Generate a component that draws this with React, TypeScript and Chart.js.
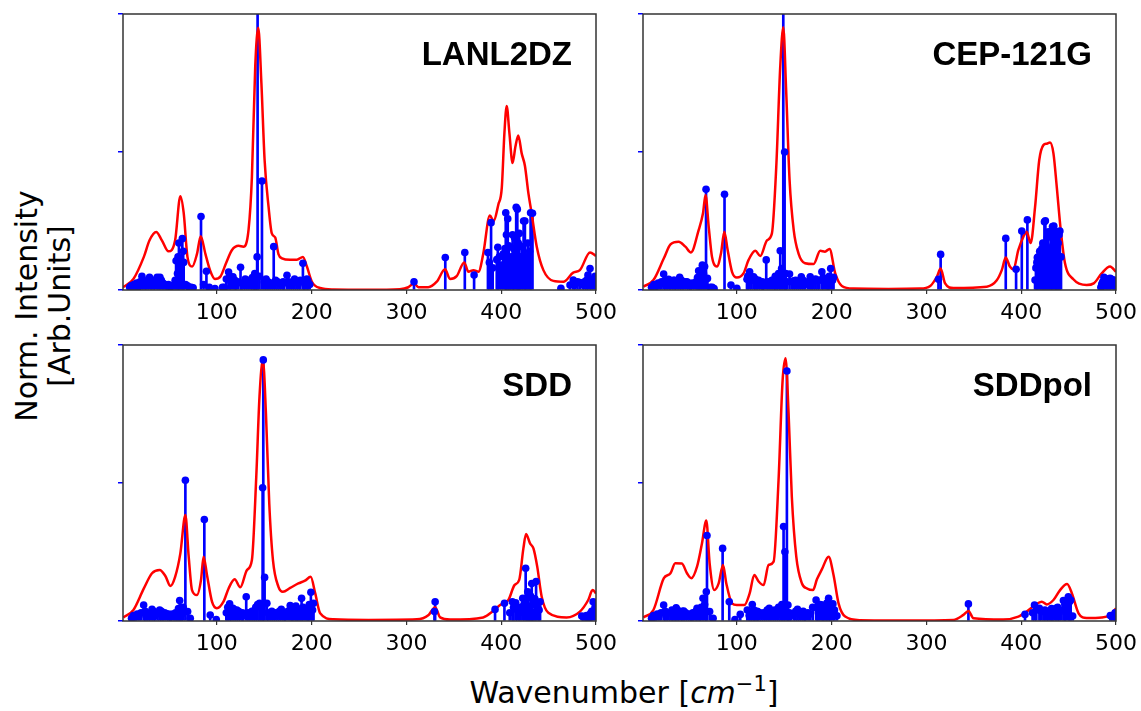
import React, { useEffect, useRef } from "react";
import { Chart, registerables } from "chart.js";

Chart.register(...registerables);

const xTickValues = [100, 200, 300, 400, 500];
const panelTitles = ["LANL2DZ", "CEP-121G", "SDD", "SDDpol"];

// ---- LANL2DZ ----
const lanlCurveX = [1, 12, 23, 29, 36, 42, 49, 56, 61.5, 65, 69, 74, 79, 83, 88, 93, 98, 104, 110, 116, 123, 128, 133.5, 137, 140.5, 143.7, 147, 150.4, 154.6, 158, 161.6, 165, 168.7, 177.4, 184.5, 190.8, 195, 200.3, 209, 223, 260, 293, 302, 308, 312.7, 323, 332, 340.8, 346, 353, 361, 365.4, 370.7, 376, 381, 388, 392, 397, 400.6, 403.4, 405.8, 408.6, 412, 415, 418, 421.6, 425, 428.7, 432, 437.5, 444.5, 455, 465.6, 476, 483, 493.7, 500];
const lanlCurveY = [0.01, 0.04, 0.12, 0.18, 0.21, 0.18, 0.14, 0.18, 0.34, 0.28, 0.12, 0.085, 0.13, 0.195, 0.13, 0.07, 0.04, 0.05, 0.1, 0.145, 0.16, 0.157, 0.22, 0.41, 0.81, 0.95, 0.75, 0.47, 0.3, 0.205, 0.19, 0.13, 0.115, 0.11, 0.11, 0.12, 0.085, 0.03, 0.007, 0.002, 0.001, 0.003, 0.01, 0.024, 0.01, 0.01, 0.03, 0.075, 0.04, 0.05, 0.1, 0.066, 0.072, 0.066, 0.13, 0.27, 0.25, 0.31, 0.37, 0.57, 0.667, 0.57, 0.46, 0.52, 0.56, 0.495, 0.45, 0.35, 0.28, 0.157, 0.072, 0.033, 0.03, 0.063, 0.072, 0.136, 0.123];
const lanlStemX = [11, 14, 17, 21, 24, 27, 29, 32, 35, 37, 40, 44, 47, 51, 55, 57, 58.5, 60, 62, 63.6, 65, 67, 71, 75, 83.3, 89, 98, 108, 112.4, 115, 117, 120, 125, 128, 132, 136, 139, 141, 142.5, 143, 147.6, 152, 156, 160, 164, 168, 171, 174, 178, 182, 186, 190.8, 193, 196, 308, 341, 361.6, 371.4, 386, 389.3, 395.3, 396.4, 404, 404.8, 406.9, 409, 414, 417, 419, 421.7, 425, 428, 433, 463, 472.6, 476, 483, 488, 491.5, 493.7, 497];
const lanlStemY = [0.012, 0.02, 0.01, 0.05, 0.025, 0.02, 0.046, 0.02, 0.03, 0.046, 0.046, 0.02, 0.015, 0.012, 0.02, 0.106, 0.06, 0.17, 0.1, 0.186, 0.1, 0.02, 0.01, 0.008, 0.266, 0.068, 0.005, 0.01, 0.065, 0.03, 0.048, 0.02, 0.082, 0.02, 0.02, 0.03, 0.04, 0.05, 0.12, 1.35, 0.395, 0.04, 0.02, 0.157, 0.03, 0.02, 0.025, 0.053, 0.02, 0.04, 0.025, 0.097, 0.02, 0.033, 0.03, 0.118, 0.136, 0.054, 0.136, 0.244, 0.11, 0.155, 0.15, 0.28, 0.258, 0.108, 0.19, 0.293, 0.205, 0.157, 0.25, 0.17, 0.278, 0.006, 0.018, 0.036, 0.027, 0.03, 0.054, 0.078, 0.04];
const lanlExtraStemX = [8, 9.5, 12.5, 15.5, 19, 22.5, 25.5, 30.5, 33.5, 38.5, 41.5, 43, 46, 49, 53, 56, 59, 61, 64.5, 69, 73, 86, 92, 106, 110, 113.5, 119, 122, 126, 130, 134, 137.5, 140, 145, 150, 154, 158, 162, 166, 170, 176, 180, 184, 188, 192, 195, 198, 387.5, 391, 398, 400, 402, 405.5, 408, 410.5, 412, 413, 415.8, 418, 420, 423.6, 426.5, 430, 431, 478, 480.5, 486, 490, 495, 499];
const lanlExtraStemY = [0.01, 0.015, 0.02, 0.025, 0.03, 0.035, 0.03, 0.03, 0.035, 0.03, 0.035, 0.025, 0.02, 0.02, 0.015, 0.035, 0.12, 0.08, 0.14, 0.015, 0.01, 0.02, 0.01, 0.01, 0.04, 0.05, 0.035, 0.03, 0.025, 0.04, 0.035, 0.045, 0.06, 0.05, 0.03, 0.03, 0.025, 0.035, 0.025, 0.03, 0.03, 0.025, 0.03, 0.035, 0.03, 0.04, 0.02, 0.1, 0.08, 0.12, 0.09, 0.13, 0.2, 0.16, 0.12, 0.2, 0.15, 0.3, 0.17, 0.12, 0.25, 0.12, 0.14, 0.28, 0.02, 0.03, 0.02, 0.035, 0.03, 0.05];

// ---- CEP-121G ----
const cepCurveX = [1.4, 12, 23, 30, 38.6, 45.7, 51.6, 59.7, 64.3, 67, 70.3, 73.8, 79, 83.3, 86.8, 90.3, 94.9, 100, 107, 112.4, 119.5, 124.7, 131.8, 137, 141.6, 145.8, 149, 152, 155.6, 160, 165, 172, 181, 188, 193, 197.8, 203.8, 210.8, 223, 260, 293, 304, 311, 315, 319.7, 328.5, 363.7, 374, 379.5, 383.7, 388, 391.8, 397, 402.3, 405.8, 410, 414.6, 419, 423.4, 427, 430.4, 434, 437.5, 441.7, 446.2, 455, 469, 476.5, 484.9, 493.7, 500];
const cepCurveY = [0.012, 0.036, 0.115, 0.165, 0.175, 0.157, 0.136, 0.217, 0.278, 0.344, 0.23, 0.12, 0.085, 0.133, 0.211, 0.145, 0.066, 0.045, 0.06, 0.109, 0.142, 0.123, 0.18, 0.205, 0.447, 0.81, 0.952, 0.725, 0.4, 0.217, 0.133, 0.097, 0.094, 0.142, 0.139, 0.149, 0.06, 0.0145, 0.005, 0.004, 0.005, 0.0145, 0.048, 0.078, 0.024, 0.007, 0.012, 0.034, 0.072, 0.118, 0.085, 0.075, 0.145, 0.193, 0.211, 0.17, 0.3, 0.47, 0.525, 0.53, 0.534, 0.495, 0.374, 0.217, 0.097, 0.039, 0.018, 0.024, 0.06, 0.085, 0.066];
const cepStemX = [10, 15, 19, 22.8, 26, 28, 31, 33, 36, 39.7, 43, 47.4, 51, 55, 59.7, 62, 63.6, 66, 67.5, 69, 72, 76, 87, 93.8, 100, 110.7, 113.5, 117.7, 121, 125, 128, 131, 135, 139, 142, 145.8, 147.2, 149, 150.4, 153, 155.6, 160, 164, 168, 172, 177.4, 181, 185, 189.7, 193, 196, 199, 202, 312.7, 315, 383.7, 394.6, 400.6, 406.5, 414.6, 417, 420.6, 423.4, 425.5, 428.7, 431.5, 434.4, 438, 440.8, 485, 487.3, 490, 493.7, 497, 499];
const cepStemY = [0.01, 0.014, 0.02, 0.058, 0.03, 0.039, 0.025, 0.035, 0.02, 0.046, 0.02, 0.03, 0.015, 0.02, 0.07, 0.04, 0.09, 0.085, 0.365, 0.042, 0.01, 0.005, 0.347, 0.018, 0.006, 0.039, 0.066, 0.048, 0.03, 0.02, 0.015, 0.109, 0.02, 0.025, 0.04, 0.142, 0.078, 1.25, 0.5, 0.03, 0.058, 0.033, 0.02, 0.048, 0.02, 0.048, 0.03, 0.035, 0.066, 0.03, 0.04, 0.078, 0.046, 0.039, 0.129, 0.187, 0.075, 0.214, 0.254, 0.036, 0.118, 0.127, 0.163, 0.251, 0.211, 0.208, 0.232, 0.211, 0.214, 0.022, 0.046, 0.03, 0.042, 0.036, 0.03];
const cepExtraStemX = [12.5, 17, 20.5, 24.5, 29.5, 34.5, 38, 41.5, 45, 49, 53, 57, 58.5, 61, 64.8, 74, 111.5, 115.5, 119.5, 123, 127, 133, 137, 140.5, 144, 151.5, 158, 162, 166, 170, 175, 179, 183, 187, 191, 195, 197.5, 201, 415.5, 416.5, 418, 419.5, 421.8, 422.8, 424.5, 426.5, 427.5, 429.5, 430.5, 432.5, 433, 435.5, 436.5, 437, 439, 440, 442, 484, 486, 488.5, 491, 492.5, 495, 498];
const cepExtraStemY = [0.02, 0.025, 0.03, 0.035, 0.03, 0.035, 0.03, 0.035, 0.03, 0.025, 0.025, 0.03, 0.045, 0.05, 0.06, 0.01, 0.05, 0.035, 0.04, 0.035, 0.03, 0.03, 0.035, 0.05, 0.06, 0.06, 0.03, 0.035, 0.03, 0.035, 0.03, 0.035, 0.04, 0.035, 0.045, 0.04, 0.05, 0.035, 0.08, 0.1, 0.12, 0.14, 0.15, 0.17, 0.247, 0.16, 0.19, 0.12, 0.15, 0.14, 0.23, 0.18, 0.15, 0.21, 0.17, 0.2, 0.12, 0.01, 0.03, 0.035, 0.04, 0.035, 0.04, 0.035];

// ---- SDD ----
const sddCurveX = [1.4, 12, 23, 31.6, 39.7, 45.7, 51, 56, 61.5, 66.8, 70.3, 73.8, 79, 83.3, 86, 89.6, 94.9, 100, 107, 112.4, 118.8, 124.7, 131.8, 137, 141.6, 145, 148.6, 151.8, 155.3, 159.2, 165, 169.7, 177.4, 186, 193, 199, 203.8, 209, 223, 260, 311, 323.4, 330.3, 335.6, 346, 381, 391.8, 398.8, 407.6, 414, 419, 423.4, 426.2, 430.4, 434, 438, 442.7, 449.7, 469, 483, 491.8, 496.4, 500];
const sddCurveY = [0.013, 0.04, 0.118, 0.173, 0.185, 0.163, 0.127, 0.16, 0.245, 0.384, 0.233, 0.112, 0.094, 0.149, 0.233, 0.167, 0.07, 0.046, 0.07, 0.118, 0.151, 0.122, 0.185, 0.221, 0.523, 0.813, 0.946, 0.752, 0.426, 0.221, 0.124, 0.106, 0.12, 0.136, 0.146, 0.16, 0.1, 0.028, 0.006, 0.004, 0.006, 0.022, 0.05, 0.013, 0.005, 0.013, 0.037, 0.058, 0.076, 0.13, 0.149, 0.263, 0.315, 0.281, 0.263, 0.197, 0.088, 0.03, 0.013, 0.034, 0.076, 0.112, 0.1];
const sddStemX = [10, 14, 18, 22.8, 26, 28, 31.6, 35, 39.7, 43, 47.4, 51, 55, 58, 60.8, 63, 66.8, 69.2, 72, 86.8, 93, 99.4, 110, 113.5, 117, 121, 125, 128, 131, 135, 139, 145, 148.3, 149, 150.4, 152.8, 156, 160, 164, 168, 172, 177.4, 180, 183.4, 186, 189.4, 193, 196, 199.2, 202, 329.6, 330.3, 393.5, 403.4, 411.8, 415.3, 419, 422.7, 425.8, 428, 430, 432.2, 434, 436.8, 441, 485, 488.3, 492, 494.3, 497];
const sddStemY = [0.01, 0.015, 0.02, 0.058, 0.025, 0.02, 0.042, 0.02, 0.04, 0.02, 0.025, 0.015, 0.02, 0.03, 0.074, 0.025, 0.51, 0.034, 0.01, 0.368, 0.022, 0.005, 0.03, 0.062, 0.046, 0.04, 0.02, 0.02, 0.088, 0.02, 0.03, 0.064, 0.483, 0.946, 0.158, 0.064, 0.02, 0.028, 0.02, 0.042, 0.015, 0.056, 0.02, 0.054, 0.02, 0.082, 0.03, 0.035, 0.104, 0.064, 0.034, 0.07, 0.042, 0.064, 0.07, 0.066, 0.03, 0.082, 0.191, 0.106, 0.04, 0.136, 0.03, 0.143, 0.07, 0.018, 0.016, 0.01, 0.028, 0.07];
const sddExtraStemX = [12, 16, 20, 24.5, 29.5, 33.5, 37.5, 41.5, 45, 49, 53, 56.5, 59.5, 62, 64.5, 111.5, 115, 119, 123, 127, 133, 137, 141, 143, 146.5, 154, 158, 162, 166, 170, 175, 179, 182, 185, 188, 191, 195, 197.5, 201, 409, 413, 417, 420.5, 424, 426.8, 429, 431, 433, 435.5, 438.5, 440, 486.5, 490, 495.5, 499];
const sddExtraStemY = [0.02, 0.025, 0.03, 0.035, 0.03, 0.035, 0.03, 0.035, 0.03, 0.025, 0.025, 0.03, 0.045, 0.04, 0.05, 0.05, 0.035, 0.04, 0.035, 0.03, 0.03, 0.035, 0.05, 0.06, 0.05, 0.03, 0.035, 0.03, 0.035, 0.03, 0.035, 0.04, 0.035, 0.045, 0.04, 0.05, 0.045, 0.06, 0.04, 0.03, 0.05, 0.04, 0.05, 0.06, 0.08, 0.05, 0.09, 0.06, 0.08, 0.05, 0.04, 0.015, 0.02, 0.035, 0.05];

// ---- SDDpol ----
const polCurveX = [1.4, 12, 23, 30, 35, 42, 47.4, 52, 58, 63.2, 67.8, 71.3, 76.2, 80.8, 85.4, 88.9, 94.9, 100, 107.9, 113.5, 118.4, 123, 128.2, 133.5, 138.8, 144, 148.3, 151.4, 154.6, 158, 162.7, 168.7, 174, 180.3, 184.5, 189.7, 196.8, 202, 207.3, 214.3, 230, 280, 328.5, 339, 344.3, 349.6, 381, 397, 405.8, 414.6, 421.7, 427, 434, 441, 448.4, 453.5, 460.5, 469, 485, 493.7, 500];
const polCurveY = [0.013, 0.04, 0.155, 0.173, 0.209, 0.208, 0.173, 0.155, 0.197, 0.281, 0.364, 0.209, 0.112, 0.136, 0.203, 0.136, 0.064, 0.058, 0.058, 0.1, 0.167, 0.143, 0.13, 0.203, 0.215, 0.51, 0.873, 0.952, 0.752, 0.45, 0.233, 0.136, 0.118, 0.112, 0.151, 0.187, 0.233, 0.167, 0.064, 0.016, 0.003, 0.002, 0.004, 0.022, 0.036, 0.01, 0.005, 0.016, 0.034, 0.058, 0.07, 0.06, 0.076, 0.112, 0.134, 0.1, 0.028, 0.011, 0.013, 0.022, 0.046];
const polStemX = [10, 14, 18, 22.8, 26, 30, 33, 36, 39, 41, 44, 48, 52, 55, 58, 61, 64.3, 67.8, 68.5, 71.3, 75, 85, 92, 98, 103.6, 113, 116.3, 119, 122, 126, 130, 134.2, 138, 142, 146, 149.3, 150.7, 152.8, 153.9, 157, 160, 164, 168, 172, 177.4, 183.6, 186, 189.7, 192, 194, 196.8, 199, 201.3, 205.6, 344.3, 404, 414, 419.2, 423.4, 427, 430.4, 433, 436.8, 440, 444.5, 447, 449.7, 452.2, 454.3, 495.5, 498];
const polStemY = [0.01, 0.015, 0.02, 0.058, 0.025, 0.03, 0.035, 0.048, 0.03, 0.025, 0.036, 0.02, 0.015, 0.025, 0.046, 0.03, 0.082, 0.106, 0.31, 0.034, 0.01, 0.263, 0.07, 0.005, 0.024, 0.02, 0.06, 0.03, 0.034, 0.02, 0.025, 0.046, 0.03, 0.02, 0.03, 0.342, 0.251, 0.906, 0.058, 0.02, 0.025, 0.042, 0.02, 0.015, 0.025, 0.076, 0.03, 0.058, 0.04, 0.03, 0.082, 0.045, 0.062, 0.019, 0.062, 0.024, 0.058, 0.046, 0.034, 0.02, 0.037, 0.02, 0.046, 0.03, 0.074, 0.04, 0.088, 0.076, 0.018, 0.016, 0.016];
const polExtraStemX = [12, 16, 20, 24.5, 28, 31.5, 34.5, 37.5, 42.5, 46, 50, 53.5, 57, 60, 62.5, 66, 111, 114.5, 118, 121, 124, 128, 132, 136, 140, 144, 147.5, 155.5, 162, 166, 170, 175, 180, 185, 188, 191, 195, 198, 203, 412, 416, 421, 425, 428.5, 432, 435, 438.5, 442, 446, 451, 494, 499];
const polExtraStemY = [0.02, 0.025, 0.03, 0.035, 0.03, 0.04, 0.035, 0.04, 0.035, 0.03, 0.025, 0.03, 0.035, 0.04, 0.05, 0.06, 0.04, 0.035, 0.04, 0.035, 0.03, 0.03, 0.04, 0.035, 0.04, 0.05, 0.06, 0.03, 0.035, 0.03, 0.035, 0.03, 0.05, 0.045, 0.06, 0.05, 0.065, 0.05, 0.04, 0.03, 0.04, 0.035, 0.04, 0.03, 0.045, 0.04, 0.05, 0.04, 0.06, 0.07, 0.02, 0.03];

const pts = (xs: number[], ys: number[]) => xs.map((x, i) => ({ x, y: ys[i] }));

const PLOT_W = 473;
const PLOT_H = 276;
const PAD_L = 20;
const PAD_R = 26;
const PAD_T = 8;
const X_AXIS_H = 40;

const panels = [
  { title: panelTitles[0], left: 123, top: 14, cx: lanlCurveX, cy: lanlCurveY, sx: lanlStemX.concat(lanlExtraStemX), sy: lanlStemY.concat(lanlExtraStemY) },
  { title: panelTitles[1], left: 643, top: 14, cx: cepCurveX, cy: cepCurveY, sx: cepStemX.concat(cepExtraStemX), sy: cepStemY.concat(cepExtraStemY) },
  { title: panelTitles[2], left: 123, top: 345, cx: sddCurveX, cy: sddCurveY, sx: sddStemX.concat(sddExtraStemX), sy: sddStemY.concat(sddExtraStemY) },
  { title: panelTitles[3], left: 643, top: 345, cx: polCurveX, cy: polCurveY, sx: polStemX.concat(polExtraStemX), sy: polStemY.concat(polExtraStemY) },
];

const framePlugin = {
  id: "frame",
  afterDatasetsDraw(chart: any) {
    const { ctx, chartArea } = chart;
    const { left, top, right, bottom } = chartArea;
    ctx.save();
    ctx.strokeStyle = "#333333";
    ctx.lineWidth = 1.5;
    ctx.strokeRect(left, top, right - left, bottom - top);
    ctx.restore();
  },
};

function Panel({ p }: { p: any }) {
  const ref = useRef<HTMLCanvasElement>(null);
  useEffect(() => {
    if (!ref.current) return;
    const chart = new Chart(ref.current, {
      type: "scatter",
      data: {
        datasets: [
          {
            type: "scatter",
            data: pts(p.sx, p.sy),
            pointRadius: 3.8,
            pointBackgroundColor: "#0000ff",
            pointBorderColor: "#0000ff",
            pointBorderWidth: 0,
            order: 0,
            clip: 0,
          } as any,
          {
            type: "line",
            data: pts(p.cx, p.cy),
            borderColor: "#ff0000",
            borderWidth: 2.5,
            pointRadius: 0,
            cubicInterpolationMode: "monotone",
            fill: false,
            order: 1,
            clip: 0,
          } as any,
          {
            type: "bar",
            data: pts(p.sx, p.sy),
            backgroundColor: "#0000ff",
            borderWidth: 0,
            barThickness: 2,
            order: 2,
            clip: 0,
          } as any,
        ],
      },
      options: {
        responsive: false,
        maintainAspectRatio: false,
        animation: false,
        layout: { padding: { left: 0, right: PAD_R, top: PAD_T, bottom: 0 } },
        plugins: { legend: { display: false }, tooltip: { enabled: false } },
        scales: {
          x: {
            type: "linear",
            min: 1,
            max: 500,
            offset: false,
            grid: { display: true, drawOnChartArea: false, drawTicks: true, tickLength: 4, color: "#333333", lineWidth: 1.2, offset: false },
            border: { display: false },
            ticks: {
              padding: 6,
              color: "#000000",
              font: { family: "DejaVu Sans", size: 22 },
              maxRotation: 0,
              autoSkip: false,
              callback: (v: any) => String(v),
            },
            afterBuildTicks: (s: any) => {
              s.ticks = xTickValues.map((v) => ({ value: v }));
            },
            afterFit: (s: any) => {
              s.height = X_AXIS_H;
              s.paddingLeft = 0;
              s.paddingRight = 0;
            },
          },
          y: {
            type: "linear",
            min: 0,
            max: 1,
            ticks: { display: false, stepSize: 0.5 },
            grid: {
              drawOnChartArea: false,
              drawTicks: true,
              tickLength: 5,
              color: "#0000ff",
              tickColor: "#0000ff",
              lineWidth: 1.5,
            },
            border: { display: false },
            afterFit: (s: any) => {
              s.width = PAD_L;
              s.paddingTop = 0;
              s.paddingBottom = 0;
            },
          },
        },
      } as any,
      plugins: [framePlugin],
    });
    return () => chart.destroy();
  }, [p]);

  const w = PAD_L + PLOT_W + PAD_R;
  const h = PAD_T + PLOT_H + X_AXIS_H;
  return (
    <>
      <canvas
        ref={ref}
        width={w}
        height={h}
        style={{ position: "absolute", left: p.left - PAD_L, top: p.top - PAD_T, width: w, height: h }}
      />
      <div
        style={{
          position: "absolute",
          left: p.left,
          width: PLOT_W - 24,
          top: p.top + 23,
          textAlign: "right",
          fontFamily: "'Liberation Sans', Arial, sans-serif",
          fontWeight: "bold",
          fontSize: 33,
          lineHeight: "33px",
          color: "#000",
          whiteSpace: "nowrap",
        }}
      >
        {p.title}
      </div>
    </>
  );
}

export default function App() {
  return (
    <div
      style={{
        position: "absolute",
        left: 0,
        top: 0,
        width: 1141,
        height: 711,
        background: "#ffffff",
        overflow: "hidden",
      }}
    >
      {panels.map((p) => (
        <Panel key={p.title} p={p} />
      ))}
      <div
        style={{
          position: "absolute",
          left: 43 - 160,
          top: 306 - 33,
          width: 320,
          height: 66,
          transform: "rotate(-90deg)",
          transformOrigin: "160px 33px",
          textAlign: "center",
          fontFamily: "'DejaVu Sans', sans-serif",
          fontSize: 30,
          lineHeight: "33px",
          color: "#000",
          whiteSpace: "nowrap",
        }}
      >
        <div>Norm. Intensity</div>
        <div>[Arb.Units]</div>
      </div>
      <div
        style={{
          position: "absolute",
          left: 624 - 250,
          width: 500,
          top: 676,
          textAlign: "center",
          fontFamily: "'DejaVu Sans', sans-serif",
          fontSize: 30,
          lineHeight: "34px",
          color: "#000",
          whiteSpace: "nowrap",
        }}
      >
        Wavenumber [<i>cm</i>
        <sup style={{ fontSize: 21, verticalAlign: "0.55em", lineHeight: 0 }}>−1</sup>]
      </div>
    </div>
  );
}
